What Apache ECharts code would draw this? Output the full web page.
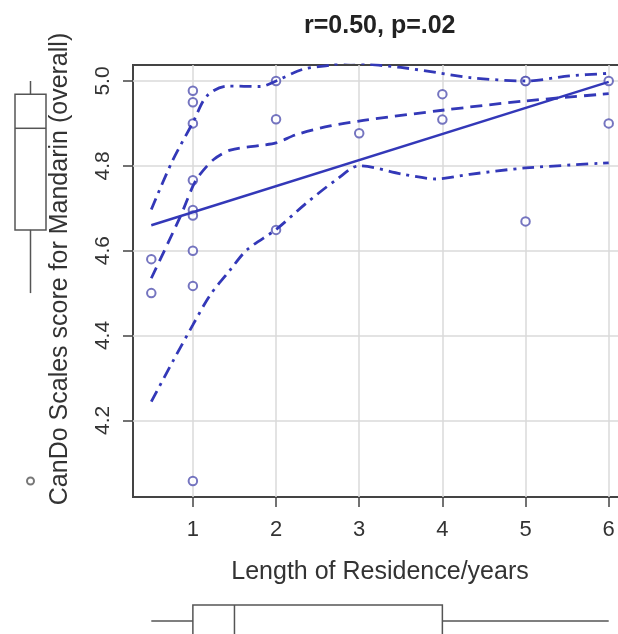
<!DOCTYPE html>
<html><head><meta charset="utf-8">
<script src="https://cdn.jsdelivr.net/npm/echarts@6/dist/echarts.min.js"></script>
<style>html,body{margin:0;padding:0;background:#fff;overflow:hidden}#c{width:618px;height:634px}</style>
</head><body><div id="c"></div>
<script>
const titleText = 'r=0.50, p=.02';
const xName = 'Length of Residence/years';
const yName = 'CanDo Scales score for Mandarin (overall)';
const xTicks = [1, 2, 3, 4, 5, 6];
const yTicks = [4.2, 4.4, 4.6, 4.8, 5.0];

// observations (x = years of residence, y = CanDo score)
const residence = [0.5, 0.5, 1, 1, 1, 1, 1, 1, 1, 1, 1, 2, 2, 2, 3, 4, 4, 5, 5, 5, 6, 6];
const cando = [4.58, 4.50, 4.977, 4.95, 4.90, 4.766, 4.696, 4.683, 4.60, 4.517, 4.057, 5.0, 4.91, 4.649, 4.877, 4.969, 4.909, 5.0, 5.0, 4.669, 5.0, 4.90];

// linear fit
const fitX = [0.5, 6];
const fitY = [4.660, 4.998];

// smoother (dashed) and its spread (dot-dash)
const midX = [0.5, 0.85, 1.0, 1.07, 1.25, 1.45, 1.81, 2.0, 2.25, 2.65, 3.05, 4.0, 5.0, 6.0];
const midY = [4.535, 4.681, 4.752, 4.776, 4.815, 4.837, 4.848, 4.854, 4.874, 4.894, 4.907, 4.931, 4.953, 4.970];
const upX = [0.5, 0.75, 1.0, 1.17, 1.41, 1.81, 2.0, 2.33, 2.65, 2.9, 3.13, 3.5, 3.93, 4.33, 5.0, 5.53, 6.0];
const upY = [4.697, 4.81, 4.902, 4.965, 4.988, 4.987, 5.0, 5.028, 5.037, 5.045, 5.039, 5.032, 5.02, 5.008, 5.0, 5.012, 5.018];
const loX = [0.5, 0.77, 1.0, 1.21, 1.45, 1.65, 2.0, 2.37, 2.73, 3.0, 3.53, 3.93, 4.33, 5.0, 6.0];
const loY = [4.244, 4.343, 4.425, 4.496, 4.555, 4.602, 4.650, 4.713, 4.768, 4.80, 4.78, 4.769, 4.78, 4.795, 4.807];

const FONT = 'Liberation Sans, Arial, Helvetica, sans-serif';
const BLUE = '#3338b8';
const PT = '#5252b0';
const GRAY = '#555';

function fivenum(arr) {
  const s = [...arr].sort((a, b) => a - b); const n = s.length;
  const n4 = Math.floor((n + 3) / 2) / 2;
  const d = [1, n4, (n + 1) / 2, n + 1 - n4, n];
  return d.map(i => 0.5 * (s[Math.floor(i) - 1] + s[Math.ceil(i) - 1]));
}
function boxStats(arr) {
  const [mn, q1, med, q3, mx] = fivenum(arr);
  const iqr = q3 - q1, lo = q1 - 1.5 * iqr, hi = q3 + 1.5 * iqr;
  const inside = arr.filter(v => v >= lo && v <= hi);
  return { box: [Math.min(...inside), q1, med, q3, Math.max(...inside)], out: arr.filter(v => v < lo || v > hi) };
}
const bx = boxStats(residence);
const by = boxStats(cando);
const zip = (a, b) => a.map((v, i) => [v, b[i]]);

const boxStyle = { stroke: GRAY, lineWidth: 1.5, fill: 'none' };
function renderVBox(params, api) {
  const v = [0, 1, 2, 3, 4].map(i => api.value(i));
  const x0 = api.coord([0, v[3]])[0], x1 = api.coord([1, v[3]])[0], cx = api.coord([0.5, v[3]])[0];
  const y = v.map(t => api.coord([0.5, t])[1]);
  return { type: 'group', children: [
    { type: 'rect', shape: { x: x0, y: y[3], width: x1 - x0, height: y[1] - y[3] }, style: boxStyle },
    { type: 'line', shape: { x1: x0, y1: y[2], x2: x1, y2: y[2] }, style: boxStyle },
    { type: 'line', shape: { x1: cx, y1: y[0], x2: cx, y2: y[1] }, style: boxStyle },
    { type: 'line', shape: { x1: cx, y1: y[3], x2: cx, y2: y[4] }, style: boxStyle }
  ]};
}
function renderHBox(params, api) {
  const v = [0, 1, 2, 3, 4].map(i => api.value(i));
  const y0 = api.coord([v[1], 1])[1], y1 = api.coord([v[1], 0])[1], cy = api.coord([v[1], 0.5])[1];
  const x = v.map(t => api.coord([t, 0.5])[0]);
  return { type: 'group', children: [
    { type: 'rect', shape: { x: x[1], y: y0, width: x[3] - x[1], height: y1 - y0 }, style: boxStyle },
    { type: 'line', shape: { x1: x[2], y1: y0, x2: x[2], y2: y1 }, style: boxStyle },
    { type: 'line', shape: { x1: x[0], y1: cy, x2: x[1], y2: cy }, style: boxStyle },
    { type: 'line', shape: { x1: x[3], y1: cy, x2: x[4], y2: cy }, style: boxStyle }
  ]};
}

const XMIN = 0.28, XMAX = 6.22, YMIN = 4.0193, YMAX = 5.0377;
const chart = echarts.init(document.getElementById('c'), null, { renderer: 'canvas' });
const lineBase = { type: 'line', xAxisIndex: 0, yAxisIndex: 0, showSymbol: false, smooth: 0.3, clip: true, silent: true };
chart.setOption({
  animation: false,
  backgroundColor: '#fff',
  textStyle: { fontFamily: FONT },
  title: { text: titleText, left: 299, top: 9, textStyle: { fontSize: 25, fontWeight: 'bold', color: '#222', fontFamily: FONT } },
  grid: [
    { left: 133, width: 494, top: 65, height: 432, show: true, borderColor: '#444', borderWidth: 2, outerBoundsMode: 'none', containLabel: false },
    { left: 15, width: 31, top: 65, height: 432, outerBoundsMode: 'none', containLabel: false },
    { left: 133, width: 494, top: 605, height: 32, outerBoundsMode: 'none', containLabel: false }
  ],
  xAxis: [
    { type: 'value', gridIndex: 0, min: XMIN, max: XMAX,
      axisLine: { show: false },
      axisTick: { show: true, customValues: xTicks, length: 10, lineStyle: { color: '#444', width: 1.5 } },
      axisLabel: { customValues: xTicks, fontSize: 22, color: '#333', margin: 22, fontFamily: FONT },
      splitLine: { show: true, lineStyle: { color: '#dadada', width: 1.5 } },
      name: xName, nameLocation: 'middle', nameGap: 63, nameTextStyle: { fontSize: 25, color: '#333', fontFamily: FONT } },
    { type: 'value', gridIndex: 1, min: 0, max: 1, show: false },
    { type: 'value', gridIndex: 2, min: XMIN, max: XMAX, show: false }
  ],
  yAxis: [
    { type: 'value', gridIndex: 0, min: YMIN, max: YMAX,
      axisLine: { show: false },
      axisTick: { show: true, customValues: yTicks, length: 10, lineStyle: { color: '#444', width: 1.5 } },
      axisLabel: { customValues: yTicks, rotate: 90, fontSize: 21, color: '#333', margin: 19, fontFamily: FONT, formatter: v => v.toFixed(1) },
      splitLine: { show: true, lineStyle: { color: '#dadada', width: 1.5 } },
      name: yName, nameLocation: 'middle', nameGap: 60, nameTextStyle: { fontSize: 25, color: '#333', fontFamily: FONT, padding: [0, 0, 0, 24] } },
    { type: 'value', gridIndex: 1, min: YMIN, max: YMAX, show: false },
    { type: 'value', gridIndex: 2, min: 0, max: 1, show: false }
  ],
  series: [
    { type: 'scatter', xAxisIndex: 0, yAxisIndex: 0, data: zip(residence, cando), symbol: 'emptyCircle', symbolSize: 8.5,
      itemStyle: { color: PT, borderWidth: 1.3 }, silent: true },
    Object.assign({}, lineBase, { data: zip(fitX, fitY), smooth: false, lineStyle: { color: BLUE, width: 2.5, type: 'solid' } }),
    Object.assign({}, lineBase, { data: zip(midX, midY), lineStyle: { color: BLUE, width: 2.8, type: [12, 7] } }),
    Object.assign({}, lineBase, { data: zip(upX, upY), lineStyle: { color: BLUE, width: 2.8, type: [12, 6, 3, 6] } }),
    Object.assign({}, lineBase, { data: zip(loX, loY), lineStyle: { color: BLUE, width: 2.8, type: [12, 6, 3, 6] } }),
    { type: 'custom', xAxisIndex: 1, yAxisIndex: 1, renderItem: renderVBox, data: [by.box], clip: false, silent: true },
    { type: 'scatter', xAxisIndex: 1, yAxisIndex: 1, data: by.out.map(v => [0.5, v]), symbol: 'emptyCircle', symbolSize: 7,
      itemStyle: { color: GRAY, borderWidth: 1.2 }, silent: true },
    { type: 'custom', xAxisIndex: 2, yAxisIndex: 2, renderItem: renderHBox, data: [bx.box], clip: false, silent: true }
  ]
});
</script></body></html>
